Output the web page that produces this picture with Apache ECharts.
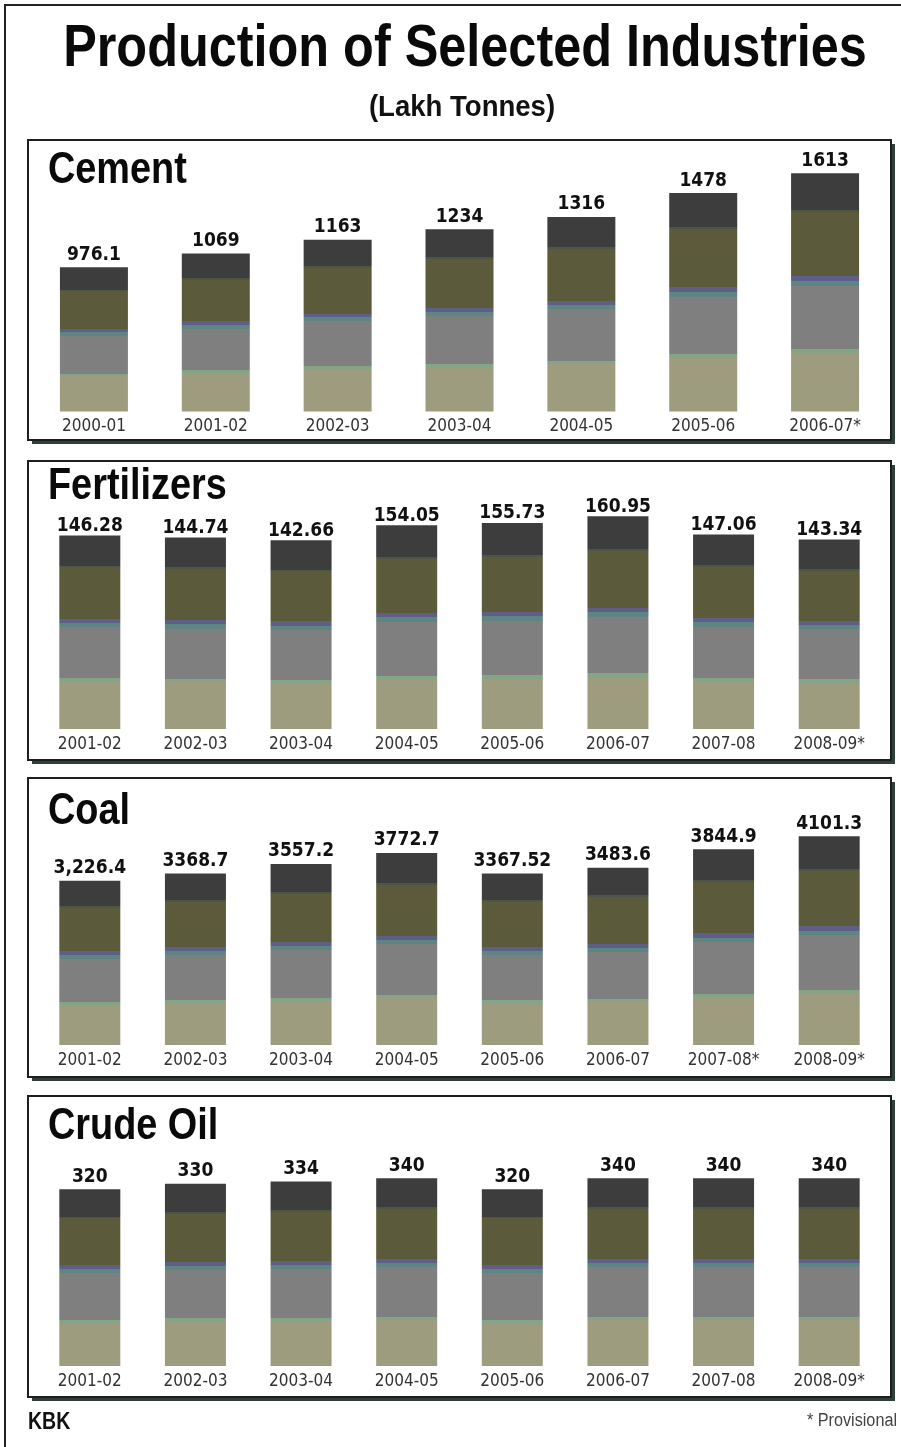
<!DOCTYPE html>
<html>
<head>
<meta charset="utf-8">
<script src="https://cdn.jsdelivr.net/npm/echarts@6/dist/echarts.min.js"></script>
<style>
html,body{margin:0;padding:0;background:#fff;}
#chart{width:901px;height:1447px;}
</style>
</head>
<body>
<div id="chart"></div>
<script>
// ---- data ----
const cementYears = ['2000-01','2001-02','2002-03','2003-04','2004-05','2005-06','2006-07*'];
const cementValues = [976.1, 1069, 1163, 1234, 1316, 1478, 1613];
const cementLabels = ['976.1','1069','1163','1234','1316','1478','1613'];

const fertYears = ['2001-02','2002-03','2003-04','2004-05','2005-06','2006-07','2007-08','2008-09*'];
const fertValues = [146.28, 144.74, 142.66, 154.05, 155.73, 160.95, 147.06, 143.34];
const fertLabels = ['146.28','144.74','142.66','154.05','155.73','160.95','147.06','143.34'];

const coalYears = ['2001-02','2002-03','2003-04','2004-05','2005-06','2006-07','2007-08*','2008-09*'];
const coalValues = [3226.4, 3368.7, 3557.2, 3772.7, 3367.52, 3483.6, 3844.9, 4101.3];
const coalLabels = ['3,226.4','3368.7','3557.2','3772.7','3367.52','3483.6','3844.9','4101.3'];

const oilYears = ['2001-02','2002-03','2003-04','2004-05','2005-06','2006-07','2007-08','2008-09*'];
const oilValues = [320, 330, 334, 340, 320, 340, 340, 340];
const oilLabels = ['320','330','334','340','320','340','340','340'];

const panelTitles = ['Cement','Fertilizers','Coal','Crude Oil'];

// ---- styling ----
const NARROW = "'Liberation Sans Narrow','DejaVu Sans Condensed','Liberation Sans',sans-serif";
const bands = [
  [0.000, '#3d3d3d'], [0.155, '#4b5644'], [0.165, '#5b5a3b'],
  [0.430, '#5e5f88'], [0.452, '#5f8582'], [0.475, '#7f7f7f'],
  [0.738, '#84a585'], [0.756, '#9d9c7e'], [1.0, null]
];
function bandGradient(){
  const stops = [];
  for (let i = 0; i < bands.length - 1; i++) {
    stops.push({offset: bands[i][0], color: bands[i][1]});
    stops.push({offset: bands[i+1][0], color: bands[i][1]});
  }
  return new echarts.graphic.LinearGradient(0, 0, 0, 1, stops);
}

const panels = [
  {years: cementYears, values: cementValues, labels: cementLabels, max: 1800, grid:{left:33, width:853, top:145.5, height:266}, barWidth:68, labelDist:3, box:{y:140,h:300}},
  {years: fertYears, values: fertValues, labels: fertLabels, max: 200, grid:{left:37, width:845, top:464.5, height:264.5}, barWidth:61, labelDist:0, box:{y:461,h:299}},
  {years: coalYears, values: coalValues, labels: coalLabels, max: 5000, grid:{left:37, width:845, top:790.5, height:254.5}, barWidth:61, labelDist:3, box:{y:778,h:299}},
  {years: oilYears, values: oilValues, labels: oilLabels, max: 450, grid:{left:37, width:845, top:1117.5, height:248.5}, barWidth:61, labelDist:3, box:{y:1096,h:301}}
];
const titleY = [171, 487, 812, 1127];

const graphics = [];
// outer frame
graphics.push({type:'polyline', z:0, shape:{points:[[5,1447],[5,5],[901,5]]}, style:{stroke:'#222', lineWidth:2, fill:null}});
// main title
graphics.push({type:'text', x:465, y:49, scaleX:0.84, z:10, style:{text:'Production of Selected Industries', font:"bold 60px 'Liberation Sans',sans-serif", fill:'#0a0a0a', align:'center', verticalAlign:'middle', textShadowColor:'rgba(110,110,150,0.45)', textShadowOffsetX:2, textShadowOffsetY:2}});
graphics.push({type:'text', x:462, y:108, scaleX:0.95, z:10, style:{text:'(Lakh Tonnes)', font:"bold 29px 'Liberation Sans',sans-serif", fill:'#111', align:'center', verticalAlign:'middle'}});
panels.forEach((p, i) => {
  // shadow
  graphics.push({type:'rect', z:0, shape:{x:32, y:p.box.y+4, width:863, height:p.box.h}, style:{fill:'#2f3f3a'}});
  // panel
  graphics.push({type:'rect', z:1, shape:{x:28, y:p.box.y, width:863, height:p.box.h}, style:{fill:'#fff', stroke:'#1e1e1e', lineWidth:2}});
  graphics.push({type:'text', x:48, y:titleY[i], scaleX:0.86, z:10, style:{text:panelTitles[i], font:"bold 44px 'Liberation Sans',sans-serif", fill:'#0a0a0a', align:'left', verticalAlign:'middle', textShadowColor:'rgba(140,140,60,0.45)', textShadowOffsetX:1, textShadowOffsetY:1}});
});
// footer
graphics.push({type:'text', x:28, y:1423, scaleX:0.85, z:10, style:{text:'KBK', font:"bold 23px 'Liberation Sans',sans-serif", fill:'#111', align:'left', verticalAlign:'middle'}});
graphics.push({type:'text', x:897, y:1421, scaleX:0.9, z:10, style:{text:'* Provisional', font:"18px 'Liberation Sans',sans-serif", fill:'#444', align:'right', verticalAlign:'middle'}});

const grids = [], xAxes = [], yAxes = [], series = [];
panels.forEach((p, i) => {
  grids.push(Object.assign({containLabel:false}, p.grid));
  xAxes.push({type:'category', gridIndex:i, z:10, data:p.years, axisLine:{show:false}, axisTick:{show:false},
    axisLabel:{interval:0, margin:7, fontSize:17, fontFamily:NARROW, color:'#333'}});
  yAxes.push({type:'value', gridIndex:i, min:0, max:p.max, show:false, splitLine:{show:false}});
  series.push({type:'bar', xAxisIndex:i, yAxisIndex:i, data:p.values, barWidth:p.barWidth, z:5,
    itemStyle:{color: bandGradient()},
    label:{show:true, position:'top', distance:p.labelDist, fontSize:19, fontWeight:'bold', fontFamily:NARROW, color:'#111',
      formatter: (d) => p.labels[d.dataIndex]}});
});

const chart = echarts.init(document.getElementById('chart'), null, {renderer:'canvas'});
chart.setOption({animation:false, backgroundColor:'#fff', graphic:graphics, grid:grids, xAxis:xAxes, yAxis:yAxes, series:series});
</script>
</body>
</html>
